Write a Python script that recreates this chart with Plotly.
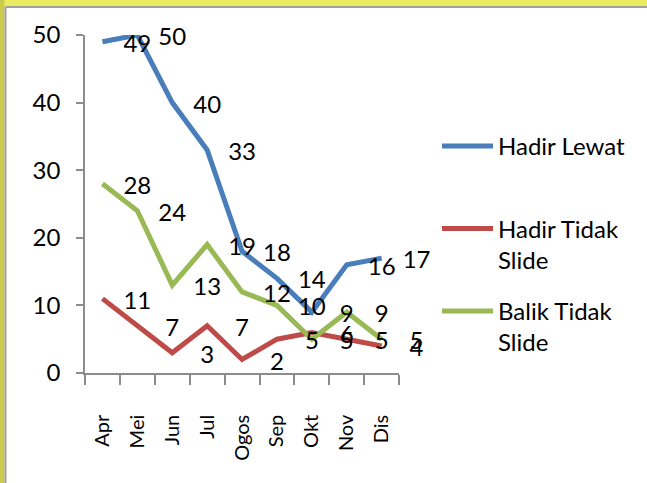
import plotly.graph_objects as go

months = ["Apr", "Mei", "Jun", "Jul", "Ogos", "Sep", "Okt", "Nov", "Dis"]
hadir_lewat = [49, 50, 40, 33, 18, 14, 9, 16, 17]
hadir_tidak_slide = [11, 7, 3, 7, 2, 5, 6, 5, 4]
balik_tidak_slide = [28, 24, 13, 19, 12, 10, 5, 9, 5]

series = [
    ("Hadir Lewat<br> ", hadir_lewat, "#4A7EBB"),
    ("Hadir Tidak<br>Slide", hadir_tidak_slide, "#BE4B48"),
    ("Balik Tidak<br>Slide", balik_tidak_slide, "#98B954"),
]

FONT = "Lato"
W, H = 647, 483
L, T, B = 85, 35, 373          # plot area edges in px
CAT = 34.9                      # px per category
R_AXIS = L + CAT * len(months)  # end of the drawn x axis
R = L + CAT * (len(months) + 1) # room for the shifted labels
LABEL_DROP = 0.6                # labels sit slightly below their value


def px2x(px):
    return (px - L) / (R - L)


def py2y(py):
    return (B - py) / (B - T)


fig = go.Figure()
xs = list(range(len(months)))
for i, (name, vals, color) in enumerate(series):
    fig.add_trace(go.Scatter(
        x=xs, y=vals, mode="lines", name=name,
        line=dict(color=color, width=5),
        legendgroup=f"g{i}",
    ))
# data labels (drawn one category to the right, as in the original)
for i, (name, vals, color) in enumerate(series):
    fig.add_trace(go.Scatter(
        x=[x + 1 for x in xs], y=vals, mode="text", xaxis="x2", yaxis="y2",
        text=[str(v) for v in vals], textposition="middle center",
        textfont=dict(family=FONT, size=24, color="black"),
        showlegend=False, cliponaxis=False, hoverinfo="skip",
    ))

shapes = [
    dict(type="rect", xref="paper", yref="paper", x0=px2x(-5), x1=px2x(W + 5),
         y0=py2y(-5), y1=py2y(6.5), fillcolor="#ECEC62", line=dict(width=0), layer="below"),
    dict(type="rect", xref="paper", yref="paper", x0=px2x(-5), x1=px2x(4.5),
         y0=py2y(-5), y1=py2y(H + 5), fillcolor="#CACA4C", line=dict(width=0), layer="below"),
    dict(type="line", xref="paper", yref="paper", x0=px2x(5.5), x1=px2x(W + 5),
         y0=py2y(7), y1=py2y(7), line=dict(color="#A0A0A0", width=2), layer="below"),
    dict(type="line", xref="paper", yref="paper", x0=px2x(5.5), x1=px2x(5.5),
         y0=py2y(7), y1=py2y(H + 5), line=dict(color="#A0A0A0", width=2), layer="below"),
]

fig.update_layout(
    width=W, height=H,
    margin=dict(l=L, r=W - R, t=T, b=H - B, pad=0),
    paper_bgcolor="white", plot_bgcolor="rgba(0,0,0,0)",
    font=dict(family=FONT, size=24, color="black"),
    shapes=shapes,
    showlegend=True,
    legend=dict(
        x=px2x(437), y=py2y(124), xanchor="left", yanchor="top",
        font=dict(family=FONT, size=24, color="black"),
        tracegroupgap=17, itemwidth=51, valign="top",
        bgcolor="rgba(0,0,0,0)",
    ),
    xaxis=dict(
        domain=[0, (R_AXIS - L) / (R - L)],
        range=[-0.5, 8.5], tickmode="array", tickvals=xs, ticktext=months,
        tickangle=-90, ticks="", showgrid=False, zeroline=False,
        showline=True, linecolor="#8C8C8C", linewidth=1.5,
        ticklabelstandoff=32,
        tickfont=dict(family=FONT, size=20, color="black"),
        minor=dict(tickmode="array", tickvals=[x - 0.5 for x in range(len(months) + 1)],
                   ticks="outside", ticklen=10, tickcolor="#8C8C8C", tickwidth=1.5,
                   showgrid=False),
    ),
    xaxis2=dict(
        domain=[0, 1], anchor="y2", range=[-0.5, 9.5], visible=False,
    ),
    yaxis=dict(
        range=[0, 50], tickmode="linear", tick0=0, dtick=10,
        ticks="outside", ticklen=7, tickcolor="#8C8C8C", tickwidth=1.5,
        showgrid=False, zeroline=False,
        showline=True, linecolor="#8C8C8C", linewidth=1.5,
        ticklabelstandoff=11,
        tickfont=dict(family=FONT, size=24, color="black"),
    ),
    yaxis2=dict(
        domain=[0, 1], anchor="x2", range=[LABEL_DROP, 50 + LABEL_DROP], visible=False,
    ),
)

fig.write_html(
    "out.html",
    config={"displayModeBar": False},
    post_script="document.body.style.margin='0';document.body.style.overflow='hidden';",
)
